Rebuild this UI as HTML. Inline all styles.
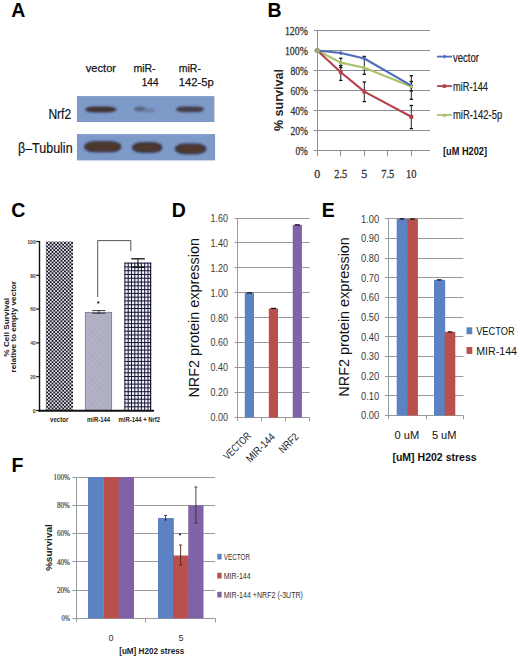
<!DOCTYPE html>
<html><head><meta charset="utf-8"><style>
html,body{margin:0;padding:0;background:#fff;}
body{width:520px;height:660px;overflow:hidden;}
svg{display:block;font-family:"Liberation Sans", sans-serif;}
</style></head><body>
<svg width="520" height="660" viewBox="0 0 520 660">
<defs><filter id="bl" x="-20%" y="-80%" width="140%" height="260%"><feGaussianBlur stdDeviation="0.9"/></filter><filter id="bl2" x="-20%" y="-80%" width="140%" height="260%"><feGaussianBlur stdDeviation="1.3"/></filter><filter id="bl3" x="-5%" y="-5%" width="110%" height="110%"><feGaussianBlur stdDeviation="0.4"/></filter><pattern id="chk" x="0" y="0" width="3.56" height="3.56" patternUnits="userSpaceOnUse"><rect width="3.56" height="3.56" fill="#e4e4ee"/><rect width="1.78" height="1.78" fill="#151520"/><rect x="1.78" y="1.78" width="1.78" height="1.78" fill="#151520"/></pattern><pattern id="chk2" x="0" y="0" width="2.4" height="2.4" patternUnits="userSpaceOnUse"><rect width="2.4" height="2.4" fill="#c4c4d4"/><rect width="1.2" height="1.2" fill="#9c9cb2"/><rect x="1.2" y="1.2" width="1.2" height="1.2" fill="#9c9cb2"/></pattern></defs>
<text x="11.30" y="17.10" font-size="19.5" text-anchor="start" font-weight="bold" fill="#000" >A</text>
<text x="267.60" y="17.10" font-size="19.5" text-anchor="start" font-weight="bold" fill="#000" >B</text>
<text x="11.30" y="216.90" font-size="19.5" text-anchor="start" font-weight="bold" fill="#000" >C</text>
<text x="171.70" y="216.70" font-size="19.5" text-anchor="start" font-weight="bold" fill="#000" >D</text>
<text x="321.70" y="216.70" font-size="19.5" text-anchor="start" font-weight="bold" fill="#000" >E</text>
<text x="11.60" y="471.80" font-size="19.5" text-anchor="start" font-weight="bold" fill="#000" >F</text>
<text x="85.80" y="71.70" font-size="11.5" text-anchor="start" fill="#151515" stroke="#151515" stroke-width="0.25" textLength="30.2" lengthAdjust="spacingAndGlyphs" >vector</text>
<text x="133.40" y="71.70" font-size="11.5" text-anchor="start" fill="#151515" stroke="#151515" stroke-width="0.25" textLength="22.2" lengthAdjust="spacingAndGlyphs" >miR-</text>
<text x="141.80" y="86.00" font-size="11.5" text-anchor="start" fill="#151515" stroke="#151515" stroke-width="0.25" textLength="16.7" lengthAdjust="spacingAndGlyphs" >144</text>
<text x="178.70" y="71.70" font-size="11.5" text-anchor="start" fill="#151515" stroke="#151515" stroke-width="0.25" textLength="22.2" lengthAdjust="spacingAndGlyphs" >miR-</text>
<text x="178.70" y="86.00" font-size="11.5" text-anchor="start" fill="#151515" stroke="#151515" stroke-width="0.25" textLength="35" lengthAdjust="spacingAndGlyphs" >142-5p</text>
<g filter="url(#bl3)">
<rect x="76.90" y="96.10" width="137.50" height="25.90" fill="#7E9AC8" />
<rect x="76.90" y="134.10" width="138.20" height="26.30" fill="#7E9AC8" />
</g>
<g filter="url(#bl)">
<rect x="85.4" y="106.9" width="30.6" height="5.2" rx="9" ry="2.6" fill="#44302a" stroke="#303246" stroke-width="0.8"/>
<rect x="176.4" y="106.9" width="27.2" height="4.9" rx="8" ry="2.45" fill="#483c44" stroke="#33344a" stroke-width="0.8"/>
<rect x="84.6" y="141.8" width="36.2" height="9.8" rx="10" ry="4.9" fill="#4e382e" stroke="#2c2e44" stroke-width="1.3"/>
<rect x="132.6" y="142.8" width="29.2" height="9.4" rx="10" ry="4.7" fill="#4e382e" stroke="#2c2e44" stroke-width="1.3"/>
<rect x="175.5" y="144.2" width="30.3" height="9.4" rx="10" ry="4.7" fill="#4e382e" stroke="#2c2e44" stroke-width="1.3"/>
</g>
<g filter="url(#bl2)"><ellipse cx="140" cy="109" rx="6" ry="2.4" fill="#56627e"/><ellipse cx="149" cy="110.6" rx="6.5" ry="2" fill="#6c7ea2"/></g>
<text x="71.20" y="119.00" font-size="14.5" text-anchor="end" fill="#151515" stroke="#151515" stroke-width="0.2" textLength="22.8" lengthAdjust="spacingAndGlyphs" >Nrf2</text>
<text x="72.60" y="153.00" font-size="14.5" text-anchor="end" fill="#151515" stroke="#151515" stroke-width="0.2" textLength="54.6" lengthAdjust="spacingAndGlyphs" >β–Tubulin</text>
<line x1="314.00" y1="30.50" x2="430.00" y2="30.50" stroke="#8e8e8e" stroke-width="1" />
<line x1="314.00" y1="50.50" x2="430.00" y2="50.50" stroke="#8e8e8e" stroke-width="1" />
<line x1="314.00" y1="70.50" x2="430.00" y2="70.50" stroke="#8e8e8e" stroke-width="1" />
<line x1="314.00" y1="90.50" x2="430.00" y2="90.50" stroke="#8e8e8e" stroke-width="1" />
<line x1="314.00" y1="110.50" x2="430.00" y2="110.50" stroke="#8e8e8e" stroke-width="1" />
<line x1="314.00" y1="130.50" x2="430.00" y2="130.50" stroke="#8e8e8e" stroke-width="1" />
<line x1="314.00" y1="150.50" x2="430.00" y2="150.50" stroke="#8e8e8e" stroke-width="1" />
<line x1="317.50" y1="30.50" x2="317.50" y2="156.20" stroke="#8e8e8e" stroke-width="1" />
<line x1="340.50" y1="150.70" x2="340.50" y2="156.20" stroke="#8e8e8e" stroke-width="1" />
<line x1="364.50" y1="150.70" x2="364.50" y2="156.20" stroke="#8e8e8e" stroke-width="1" />
<line x1="387.50" y1="150.70" x2="387.50" y2="156.20" stroke="#8e8e8e" stroke-width="1" />
<line x1="411.50" y1="150.70" x2="411.50" y2="156.20" stroke="#8e8e8e" stroke-width="1" />
<text x="307.90" y="34.80" font-size="13.5" text-anchor="end" fill="#333" font-family='"Liberation Serif", serif' stroke="#333" stroke-width="0.3" textLength="23" lengthAdjust="spacingAndGlyphs" >120%</text>
<text x="307.90" y="54.83" font-size="13.5" text-anchor="end" fill="#333" font-family='"Liberation Serif", serif' stroke="#333" stroke-width="0.3" textLength="23" lengthAdjust="spacingAndGlyphs" >100%</text>
<text x="307.90" y="74.86" font-size="13.5" text-anchor="end" fill="#333" font-family='"Liberation Serif", serif' stroke="#333" stroke-width="0.3" textLength="17.5" lengthAdjust="spacingAndGlyphs" >80%</text>
<text x="307.90" y="94.89" font-size="13.5" text-anchor="end" fill="#333" font-family='"Liberation Serif", serif' stroke="#333" stroke-width="0.3" textLength="17.5" lengthAdjust="spacingAndGlyphs" >60%</text>
<text x="307.90" y="114.92" font-size="13.5" text-anchor="end" fill="#333" font-family='"Liberation Serif", serif' stroke="#333" stroke-width="0.3" textLength="17.5" lengthAdjust="spacingAndGlyphs" >40%</text>
<text x="307.90" y="134.95" font-size="13.5" text-anchor="end" fill="#333" font-family='"Liberation Serif", serif' stroke="#333" stroke-width="0.3" textLength="17.5" lengthAdjust="spacingAndGlyphs" >20%</text>
<text x="307.90" y="154.98" font-size="13.5" text-anchor="end" fill="#333" font-family='"Liberation Serif", serif' stroke="#333" stroke-width="0.3" textLength="12.5" lengthAdjust="spacingAndGlyphs" >0%</text>
<text x="317.30" y="178.00" font-size="12" text-anchor="middle" fill="#333" font-family='"Liberation Serif", serif' stroke="#333" stroke-width="0.3" >0</text>
<text x="340.80" y="178.00" font-size="12" text-anchor="middle" fill="#333" font-family='"Liberation Serif", serif' stroke="#333" stroke-width="0.3" textLength="13" lengthAdjust="spacingAndGlyphs" >2.5</text>
<text x="364.30" y="178.00" font-size="12" text-anchor="middle" fill="#333" font-family='"Liberation Serif", serif' stroke="#333" stroke-width="0.3" >5</text>
<text x="387.80" y="178.00" font-size="12" text-anchor="middle" fill="#333" font-family='"Liberation Serif", serif' stroke="#333" stroke-width="0.3" textLength="13" lengthAdjust="spacingAndGlyphs" >7.5</text>
<text x="411.30" y="178.00" font-size="12" text-anchor="middle" fill="#333" font-family='"Liberation Serif", serif' stroke="#333" stroke-width="0.3" textLength="10.5" lengthAdjust="spacingAndGlyphs" >10</text>
<text x="0.00" y="0.00" font-size="12" text-anchor="middle" font-weight="bold" fill="#222" textLength="62" lengthAdjust="spacingAndGlyphs" transform="translate(282.8,100) rotate(-90)">% survival</text>
<polyline points="317.3,50.5 340.8,62.6 364.3,67.8 411.3,86.4" fill="none" stroke="#A9C36A" stroke-width="2.1" stroke-linejoin="round"/>
<polyline points="317.3,50.5 340.8,72.3 364.3,91.6 411.3,116.8" fill="none" stroke="#B4424E" stroke-width="2.1" stroke-linejoin="round"/>
<polyline points="317.3,50.5 340.8,53.0 364.3,58.5 411.3,85.6" fill="none" stroke="#4E6CBA" stroke-width="2.1" stroke-linejoin="round"/>
<line x1="340.80" y1="58.20" x2="340.80" y2="67.60" stroke="#222" stroke-width="1" />
<line x1="339.10" y1="58.20" x2="342.50" y2="58.20" stroke="#111" stroke-width="1.3" />
<line x1="339.10" y1="67.60" x2="342.50" y2="67.60" stroke="#111" stroke-width="1.3" />
<line x1="340.80" y1="65.60" x2="340.80" y2="80.40" stroke="#222" stroke-width="1" />
<line x1="339.10" y1="65.60" x2="342.50" y2="65.60" stroke="#111" stroke-width="1.3" />
<line x1="339.10" y1="80.40" x2="342.50" y2="80.40" stroke="#111" stroke-width="1.3" />
<line x1="364.30" y1="56.40" x2="364.30" y2="74.30" stroke="#222" stroke-width="1" />
<line x1="362.60" y1="56.40" x2="366.00" y2="56.40" stroke="#111" stroke-width="1.3" />
<line x1="362.60" y1="74.30" x2="366.00" y2="74.30" stroke="#111" stroke-width="1.3" />
<line x1="364.30" y1="82.00" x2="364.30" y2="101.60" stroke="#222" stroke-width="1" />
<line x1="362.60" y1="82.00" x2="366.00" y2="82.00" stroke="#111" stroke-width="1.3" />
<line x1="362.60" y1="101.60" x2="366.00" y2="101.60" stroke="#111" stroke-width="1.3" />
<line x1="411.30" y1="75.70" x2="411.30" y2="91.00" stroke="#222" stroke-width="1" />
<line x1="409.60" y1="75.70" x2="413.00" y2="75.70" stroke="#111" stroke-width="1.3" />
<line x1="409.60" y1="91.00" x2="413.00" y2="91.00" stroke="#111" stroke-width="1.3" />
<line x1="411.30" y1="81.50" x2="411.30" y2="99.30" stroke="#222" stroke-width="1" />
<line x1="409.60" y1="81.50" x2="413.00" y2="81.50" stroke="#111" stroke-width="1.3" />
<line x1="409.60" y1="99.30" x2="413.00" y2="99.30" stroke="#111" stroke-width="1.3" />
<line x1="411.30" y1="105.50" x2="411.30" y2="128.60" stroke="#222" stroke-width="1" />
<line x1="409.60" y1="105.50" x2="413.00" y2="105.50" stroke="#111" stroke-width="1.3" />
<line x1="409.60" y1="128.60" x2="413.00" y2="128.60" stroke="#111" stroke-width="1.3" />
<circle cx="317.3" cy="50.4" r="2.7" fill="#a4a47c"/>
<path d="M340.8 50.83424999999998 l2.2 2.2 l-2.2 2.2 l-2.2 -2.2z" fill="#4E6CBA"/>
<path d="M364.3 56.34359999999998 l2.2 2.2 l-2.2 2.2 l-2.2 -2.2z" fill="#4E6CBA"/>
<path d="M411.3 83.38949999999998 l2.2 2.2 l-2.2 2.2 l-2.2 -2.2z" fill="#4E6CBA"/>
<rect x="338.80" y="70.27" width="4.00" height="4.00" fill="#B4424E" />
<rect x="362.30" y="89.60" width="4.00" height="4.00" fill="#B4424E" />
<rect x="409.30" y="114.84" width="4.00" height="4.00" fill="#B4424E" />
<path d="M340.8 60.35039999999998 l2.3 4 l-4.6 0z" fill="#A9C36A"/>
<path d="M364.3 65.55923999999999 l2.3 4 l-4.6 0z" fill="#A9C36A"/>
<path d="M411.3 84.19085999999999 l2.3 4 l-4.6 0z" fill="#A9C36A"/>
<line x1="437.00" y1="56.60" x2="452.00" y2="56.60" stroke="#4E6CBA" stroke-width="1.8" />
<text x="453.00" y="61.80" font-size="12.5" text-anchor="start" fill="#222" stroke="#222" stroke-width="0.2" textLength="26" lengthAdjust="spacingAndGlyphs" >vector</text>
<line x1="437.00" y1="86.10" x2="452.00" y2="86.10" stroke="#B4424E" stroke-width="1.8" />
<text x="453.00" y="90.50" font-size="12.5" text-anchor="start" fill="#222" stroke="#222" stroke-width="0.2" textLength="35" lengthAdjust="spacingAndGlyphs" >miR-144</text>
<line x1="437.00" y1="115.00" x2="452.00" y2="115.00" stroke="#A9C36A" stroke-width="1.8" />
<text x="453.00" y="119.20" font-size="12.5" text-anchor="start" fill="#222" stroke="#222" stroke-width="0.2" textLength="49.2" lengthAdjust="spacingAndGlyphs" >miR-142-5p</text>
<rect x="442.60" y="84.30" width="3.60" height="3.60" fill="#B4424E" />
<path d="M444.5 54.6 l2 2 l-2 2 l-2 -2z" fill="#4E6CBA"/>
<path d="M444.5 113 l2.2 3.8 l-4.4 0z" fill="#A9C36A"/>
<text x="443.00" y="155.30" font-size="11" text-anchor="start" font-weight="bold" fill="#111" textLength="44" lengthAdjust="spacingAndGlyphs" >[uM H202]</text>
<rect x="45.80" y="241.50" width="27.20" height="169.00" fill="url(#chk)" />
<rect x="85.30" y="312.31" width="26.40" height="98.19" fill="url(#chk2)" stroke="#6a6a80" stroke-width="0.7"/>
<rect x="124.40" y="262.62" width="26.80" height="147.88" fill="#f4f4fa" />
<g fill="#17173a"><rect x="124.40" y="262.62" width="1.0" height="147.88"/><rect x="127.70" y="262.62" width="1.0" height="147.88"/><rect x="131.00" y="262.62" width="1.0" height="147.88"/><rect x="134.30" y="262.62" width="1.0" height="147.88"/><rect x="137.60" y="262.62" width="1.0" height="147.88"/><rect x="140.90" y="262.62" width="1.0" height="147.88"/><rect x="144.20" y="262.62" width="1.0" height="147.88"/><rect x="147.50" y="262.62" width="1.0" height="147.88"/><rect x="150.00" y="262.62" width="1.2" height="147.88"/><rect x="124.40" y="262.62" width="26.80" height="1.05"/><rect x="124.40" y="266.40" width="26.80" height="1.05"/><rect x="124.40" y="270.18" width="26.80" height="1.05"/><rect x="124.40" y="273.96" width="26.80" height="1.05"/><rect x="124.40" y="277.74" width="26.80" height="1.05"/><rect x="124.40" y="281.52" width="26.80" height="1.05"/><rect x="124.40" y="285.30" width="26.80" height="1.05"/><rect x="124.40" y="289.08" width="26.80" height="1.05"/><rect x="124.40" y="292.86" width="26.80" height="1.05"/><rect x="124.40" y="296.64" width="26.80" height="1.05"/><rect x="124.40" y="300.42" width="26.80" height="1.05"/><rect x="124.40" y="304.20" width="26.80" height="1.05"/><rect x="124.40" y="307.98" width="26.80" height="1.05"/><rect x="124.40" y="311.76" width="26.80" height="1.05"/><rect x="124.40" y="315.54" width="26.80" height="1.05"/><rect x="124.40" y="319.32" width="26.80" height="1.05"/><rect x="124.40" y="323.10" width="26.80" height="1.05"/><rect x="124.40" y="326.88" width="26.80" height="1.05"/><rect x="124.40" y="330.66" width="26.80" height="1.05"/><rect x="124.40" y="334.44" width="26.80" height="1.05"/><rect x="124.40" y="338.22" width="26.80" height="1.05"/><rect x="124.40" y="342.00" width="26.80" height="1.05"/><rect x="124.40" y="345.78" width="26.80" height="1.05"/><rect x="124.40" y="349.56" width="26.80" height="1.05"/><rect x="124.40" y="353.34" width="26.80" height="1.05"/><rect x="124.40" y="357.12" width="26.80" height="1.05"/><rect x="124.40" y="360.90" width="26.80" height="1.05"/><rect x="124.40" y="364.68" width="26.80" height="1.05"/><rect x="124.40" y="368.46" width="26.80" height="1.05"/><rect x="124.40" y="372.24" width="26.80" height="1.05"/><rect x="124.40" y="376.02" width="26.80" height="1.05"/><rect x="124.40" y="379.80" width="26.80" height="1.05"/><rect x="124.40" y="383.58" width="26.80" height="1.05"/><rect x="124.40" y="387.36" width="26.80" height="1.05"/><rect x="124.40" y="391.14" width="26.80" height="1.05"/><rect x="124.40" y="394.92" width="26.80" height="1.05"/><rect x="124.40" y="398.70" width="26.80" height="1.05"/><rect x="124.40" y="402.48" width="26.80" height="1.05"/><rect x="124.40" y="406.26" width="26.80" height="1.05"/></g>
<line x1="39.50" y1="241.00" x2="39.50" y2="411.50" stroke="#111" stroke-width="1.4" />
<line x1="38.50" y1="410.80" x2="154.00" y2="410.80" stroke="#111" stroke-width="2" />
<line x1="36.20" y1="410.50" x2="39.50" y2="410.50" stroke="#111" stroke-width="1.2" />
<text x="35.80" y="412.70" font-size="6" text-anchor="end" font-weight="bold" fill="#444" textLength="3" lengthAdjust="spacingAndGlyphs" >0</text>
<line x1="36.20" y1="376.70" x2="39.50" y2="376.70" stroke="#111" stroke-width="1.2" />
<text x="35.80" y="378.90" font-size="6" text-anchor="end" font-weight="bold" fill="#444" textLength="5.5" lengthAdjust="spacingAndGlyphs" >20</text>
<line x1="36.20" y1="342.90" x2="39.50" y2="342.90" stroke="#111" stroke-width="1.2" />
<text x="35.80" y="345.10" font-size="6" text-anchor="end" font-weight="bold" fill="#444" textLength="5.5" lengthAdjust="spacingAndGlyphs" >40</text>
<line x1="36.20" y1="309.10" x2="39.50" y2="309.10" stroke="#111" stroke-width="1.2" />
<text x="35.80" y="311.30" font-size="6" text-anchor="end" font-weight="bold" fill="#444" textLength="5.5" lengthAdjust="spacingAndGlyphs" >60</text>
<line x1="36.20" y1="275.30" x2="39.50" y2="275.30" stroke="#111" stroke-width="1.2" />
<text x="35.80" y="277.50" font-size="6" text-anchor="end" font-weight="bold" fill="#444" textLength="5.5" lengthAdjust="spacingAndGlyphs" >80</text>
<line x1="36.20" y1="241.50" x2="39.50" y2="241.50" stroke="#111" stroke-width="1.2" />
<text x="35.80" y="243.70" font-size="6" text-anchor="end" font-weight="bold" fill="#444" textLength="8.6" lengthAdjust="spacingAndGlyphs" >100</text>
<line x1="92.20" y1="310.60" x2="105.40" y2="310.60" stroke="#222" stroke-width="0.9" />
<line x1="92.20" y1="313.20" x2="105.40" y2="313.20" stroke="#222" stroke-width="0.9" />
<line x1="98.80" y1="310.60" x2="98.80" y2="313.20" stroke="#222" stroke-width="0.9" />
<line x1="131.20" y1="258.80" x2="144.80" y2="258.80" stroke="#111" stroke-width="1.3" />
<line x1="138.00" y1="258.80" x2="138.00" y2="267.30" stroke="#111" stroke-width="1" />
<line x1="131.20" y1="267.30" x2="144.80" y2="267.30" stroke="#111" stroke-width="1.3" />
<polyline points="97.7,297 97.7,240.6 130.8,240.6 130.8,251" fill="none" stroke="#555" stroke-width="1"/>
<text x="98.30" y="305.60" font-size="7.5" text-anchor="middle" font-weight="bold" fill="#111" >*</text>
<text x="0.00" y="0.00" font-size="7" text-anchor="middle" font-weight="bold" fill="#222" textLength="58.7" lengthAdjust="spacingAndGlyphs" transform="translate(9.4,327.3) rotate(-90)">% Cell Survival</text>
<text x="0.00" y="0.00" font-size="7" text-anchor="middle" font-weight="bold" fill="#222" textLength="91.4" lengthAdjust="spacingAndGlyphs" transform="translate(16,326.7) rotate(-90)">relative to empty vector</text>
<text x="59.20" y="421.50" font-size="6.5" text-anchor="middle" font-weight="bold" fill="#222" textLength="18.3" lengthAdjust="spacingAndGlyphs" >vector</text>
<text x="98.50" y="421.50" font-size="6.5" text-anchor="middle" font-weight="bold" fill="#222" textLength="23" lengthAdjust="spacingAndGlyphs" >miR-144</text>
<text x="139.30" y="421.50" font-size="6.5" text-anchor="middle" font-weight="bold" fill="#222" textLength="41.5" lengthAdjust="spacingAndGlyphs" >miR-144 + Nrf2</text>
<line x1="234.50" y1="417.50" x2="309.60" y2="417.50" stroke="#9a9a9a" stroke-width="1" />
<text x="227.90" y="421.30" font-size="10" text-anchor="end" fill="#3a3a3a" textLength="17.5" lengthAdjust="spacingAndGlyphs" >0.00</text>
<line x1="234.50" y1="392.50" x2="309.60" y2="392.50" stroke="#9a9a9a" stroke-width="1" />
<text x="227.90" y="396.35" font-size="10" text-anchor="end" fill="#3a3a3a" textLength="17.5" lengthAdjust="spacingAndGlyphs" >0.20</text>
<line x1="234.50" y1="367.50" x2="309.60" y2="367.50" stroke="#9a9a9a" stroke-width="1" />
<text x="227.90" y="371.40" font-size="10" text-anchor="end" fill="#3a3a3a" textLength="17.5" lengthAdjust="spacingAndGlyphs" >0.40</text>
<line x1="234.50" y1="342.50" x2="309.60" y2="342.50" stroke="#9a9a9a" stroke-width="1" />
<text x="227.90" y="346.45" font-size="10" text-anchor="end" fill="#3a3a3a" textLength="17.5" lengthAdjust="spacingAndGlyphs" >0.60</text>
<line x1="234.50" y1="317.50" x2="309.60" y2="317.50" stroke="#9a9a9a" stroke-width="1" />
<text x="227.90" y="321.50" font-size="10" text-anchor="end" fill="#3a3a3a" textLength="17.5" lengthAdjust="spacingAndGlyphs" >0.80</text>
<line x1="234.50" y1="292.50" x2="309.60" y2="292.50" stroke="#9a9a9a" stroke-width="1" />
<text x="227.90" y="296.55" font-size="10" text-anchor="end" fill="#3a3a3a" textLength="17.5" lengthAdjust="spacingAndGlyphs" >1.00</text>
<line x1="234.50" y1="267.50" x2="309.60" y2="267.50" stroke="#9a9a9a" stroke-width="1" />
<text x="227.90" y="271.60" font-size="10" text-anchor="end" fill="#3a3a3a" textLength="17.5" lengthAdjust="spacingAndGlyphs" >1.20</text>
<line x1="234.50" y1="242.50" x2="309.60" y2="242.50" stroke="#9a9a9a" stroke-width="1" />
<text x="227.90" y="246.65" font-size="10" text-anchor="end" fill="#3a3a3a" textLength="17.5" lengthAdjust="spacingAndGlyphs" >1.40</text>
<line x1="234.50" y1="218.50" x2="309.60" y2="218.50" stroke="#9a9a9a" stroke-width="1" />
<text x="227.90" y="221.70" font-size="10" text-anchor="end" fill="#3a3a3a" textLength="17.5" lengthAdjust="spacingAndGlyphs" >1.60</text>
<line x1="237.50" y1="218.30" x2="237.50" y2="421.00" stroke="#9a9a9a" stroke-width="1" />
<line x1="261.50" y1="417.60" x2="261.50" y2="421.30" stroke="#9a9a9a" stroke-width="1" />
<line x1="285.50" y1="417.60" x2="285.50" y2="421.30" stroke="#9a9a9a" stroke-width="1" />
<line x1="309.50" y1="417.60" x2="309.50" y2="421.30" stroke="#9a9a9a" stroke-width="1" />
<rect x="244.80" y="292.85" width="9.20" height="124.75" fill="#5D82C3" />
<line x1="246.90" y1="292.85" x2="251.90" y2="292.85" stroke="#111" stroke-width="1.3" />
<rect x="268.80" y="308.44" width="9.20" height="109.16" fill="#BA504C" />
<line x1="270.90" y1="308.44" x2="275.90" y2="308.44" stroke="#111" stroke-width="1.3" />
<rect x="292.70" y="224.86" width="9.20" height="192.74" fill="#7F63A6" />
<line x1="294.80" y1="224.86" x2="299.80" y2="224.86" stroke="#111" stroke-width="1.3" />
<text x="0.00" y="0.00" font-size="14.8" text-anchor="middle" fill="#111" textLength="159.6" lengthAdjust="spacingAndGlyphs" transform="translate(198.9,317.8) rotate(-90)">NRF2 protein expression</text>
<text x="0.00" y="0.00" font-size="10.6" text-anchor="end" fill="#222" textLength="34" lengthAdjust="spacingAndGlyphs" transform="translate(251.8,436.5) rotate(-45)">VECTOR</text>
<text x="0.00" y="0.00" font-size="10.6" text-anchor="end" fill="#222" textLength="36" lengthAdjust="spacingAndGlyphs" transform="translate(275.7,437.5) rotate(-45)">MIR-144</text>
<text x="0.00" y="0.00" font-size="10.6" text-anchor="end" fill="#222" textLength="23" lengthAdjust="spacingAndGlyphs" transform="translate(299.2,437.5) rotate(-45)">NRF2</text>
<line x1="385.00" y1="415.50" x2="463.40" y2="415.50" stroke="#9a9a9a" stroke-width="1" />
<text x="379.20" y="419.20" font-size="10" text-anchor="end" fill="#3a3a3a" textLength="18.2" lengthAdjust="spacingAndGlyphs" >0.00</text>
<line x1="385.00" y1="395.50" x2="463.40" y2="395.50" stroke="#9a9a9a" stroke-width="1" />
<text x="379.20" y="399.54" font-size="10" text-anchor="end" fill="#3a3a3a" textLength="18.2" lengthAdjust="spacingAndGlyphs" >0.10</text>
<line x1="385.00" y1="376.50" x2="463.40" y2="376.50" stroke="#9a9a9a" stroke-width="1" />
<text x="379.20" y="379.88" font-size="10" text-anchor="end" fill="#3a3a3a" textLength="18.2" lengthAdjust="spacingAndGlyphs" >0.20</text>
<line x1="385.00" y1="356.50" x2="463.40" y2="356.50" stroke="#9a9a9a" stroke-width="1" />
<text x="379.20" y="360.22" font-size="10" text-anchor="end" fill="#3a3a3a" textLength="18.2" lengthAdjust="spacingAndGlyphs" >0.30</text>
<line x1="385.00" y1="336.50" x2="463.40" y2="336.50" stroke="#9a9a9a" stroke-width="1" />
<text x="379.20" y="340.56" font-size="10" text-anchor="end" fill="#3a3a3a" textLength="18.2" lengthAdjust="spacingAndGlyphs" >0.40</text>
<line x1="385.00" y1="317.50" x2="463.40" y2="317.50" stroke="#9a9a9a" stroke-width="1" />
<text x="379.20" y="320.90" font-size="10" text-anchor="end" fill="#3a3a3a" textLength="18.2" lengthAdjust="spacingAndGlyphs" >0.50</text>
<line x1="385.00" y1="297.50" x2="463.40" y2="297.50" stroke="#9a9a9a" stroke-width="1" />
<text x="379.20" y="301.24" font-size="10" text-anchor="end" fill="#3a3a3a" textLength="18.2" lengthAdjust="spacingAndGlyphs" >0.60</text>
<line x1="385.00" y1="277.50" x2="463.40" y2="277.50" stroke="#9a9a9a" stroke-width="1" />
<text x="379.20" y="281.58" font-size="10" text-anchor="end" fill="#3a3a3a" textLength="18.2" lengthAdjust="spacingAndGlyphs" >0.70</text>
<line x1="385.00" y1="258.50" x2="463.40" y2="258.50" stroke="#9a9a9a" stroke-width="1" />
<text x="379.20" y="261.92" font-size="10" text-anchor="end" fill="#3a3a3a" textLength="18.2" lengthAdjust="spacingAndGlyphs" >0.80</text>
<line x1="385.00" y1="238.50" x2="463.40" y2="238.50" stroke="#9a9a9a" stroke-width="1" />
<text x="379.20" y="242.26" font-size="10" text-anchor="end" fill="#3a3a3a" textLength="18.2" lengthAdjust="spacingAndGlyphs" >0.90</text>
<line x1="385.00" y1="218.50" x2="463.40" y2="218.50" stroke="#9a9a9a" stroke-width="1" />
<text x="379.20" y="222.60" font-size="10" text-anchor="end" fill="#3a3a3a" textLength="18.2" lengthAdjust="spacingAndGlyphs" >1.00</text>
<line x1="388.50" y1="218.90" x2="388.50" y2="419.00" stroke="#9a9a9a" stroke-width="1" />
<line x1="426.50" y1="415.50" x2="426.50" y2="419.30" stroke="#9a9a9a" stroke-width="1" />
<line x1="463.50" y1="415.50" x2="463.50" y2="419.30" stroke="#9a9a9a" stroke-width="1" />
<rect x="396.70" y="218.90" width="11.20" height="196.60" fill="#5D82C3" />
<line x1="399.70" y1="218.90" x2="404.30" y2="218.90" stroke="#111" stroke-width="1.3" />
<rect x="407.30" y="218.90" width="10.60" height="196.60" fill="#BA504C" />
<line x1="410.30" y1="218.90" x2="414.90" y2="218.90" stroke="#111" stroke-width="1.3" />
<rect x="434.00" y="279.85" width="11.20" height="135.65" fill="#5D82C3" />
<line x1="437.00" y1="279.85" x2="441.60" y2="279.85" stroke="#111" stroke-width="1.3" />
<rect x="444.70" y="331.94" width="10.60" height="83.56" fill="#BA504C" />
<line x1="447.70" y1="331.94" x2="452.30" y2="331.94" stroke="#111" stroke-width="1.3" />
<text x="0.00" y="0.00" font-size="14.8" text-anchor="middle" fill="#111" textLength="159.6" lengthAdjust="spacingAndGlyphs" transform="translate(349.4,316.9) rotate(-90)">NRF2 protein expression</text>
<text x="394.50" y="438.80" font-size="10.5" text-anchor="start" fill="#111" textLength="24.7" lengthAdjust="spacingAndGlyphs" >0 uM</text>
<text x="431.90" y="438.80" font-size="10.5" text-anchor="start" fill="#111" textLength="24.6" lengthAdjust="spacingAndGlyphs" >5 uM</text>
<text x="392.40" y="460.60" font-size="10.5" text-anchor="start" font-weight="bold" fill="#111" textLength="84.3" lengthAdjust="spacingAndGlyphs" >[uM] H202 stress</text>
<rect x="466.50" y="327.30" width="5.80" height="6.90" fill="#5D82C3" />
<rect x="466.50" y="347.00" width="5.80" height="6.90" fill="#BA504C" />
<text x="476.20" y="334.80" font-size="11" text-anchor="start" fill="#111" textLength="38.4" lengthAdjust="spacingAndGlyphs" >VECTOR</text>
<text x="476.20" y="354.50" font-size="11" text-anchor="start" fill="#111" textLength="40.8" lengthAdjust="spacingAndGlyphs" >MIR-144</text>
<line x1="72.40" y1="618.50" x2="215.25" y2="618.50" stroke="#9a9a9a" stroke-width="1" />
<text x="70.00" y="621.30" font-size="8.2" text-anchor="end" fill="#444" font-family='"Liberation Serif", serif' stroke="#444" stroke-width="0.2" textLength="8.5" lengthAdjust="spacingAndGlyphs" >0%</text>
<line x1="72.40" y1="590.50" x2="215.25" y2="590.50" stroke="#9a9a9a" stroke-width="1" />
<text x="70.00" y="593.03" font-size="8.2" text-anchor="end" fill="#444" font-family='"Liberation Serif", serif' stroke="#444" stroke-width="0.2" textLength="13.1" lengthAdjust="spacingAndGlyphs" >20%</text>
<line x1="72.40" y1="561.50" x2="215.25" y2="561.50" stroke="#9a9a9a" stroke-width="1" />
<text x="70.00" y="564.76" font-size="8.2" text-anchor="end" fill="#444" font-family='"Liberation Serif", serif' stroke="#444" stroke-width="0.2" textLength="13.1" lengthAdjust="spacingAndGlyphs" >40%</text>
<line x1="72.40" y1="533.50" x2="215.25" y2="533.50" stroke="#9a9a9a" stroke-width="1" />
<text x="70.00" y="536.49" font-size="8.2" text-anchor="end" fill="#444" font-family='"Liberation Serif", serif' stroke="#444" stroke-width="0.2" textLength="13.1" lengthAdjust="spacingAndGlyphs" >60%</text>
<line x1="72.40" y1="505.50" x2="215.25" y2="505.50" stroke="#9a9a9a" stroke-width="1" />
<text x="70.00" y="508.22" font-size="8.2" text-anchor="end" fill="#444" font-family='"Liberation Serif", serif' stroke="#444" stroke-width="0.2" textLength="13.1" lengthAdjust="spacingAndGlyphs" >80%</text>
<line x1="72.40" y1="477.50" x2="215.25" y2="477.50" stroke="#9a9a9a" stroke-width="1" />
<text x="70.00" y="479.95" font-size="8.2" text-anchor="end" fill="#444" font-family='"Liberation Serif", serif' stroke="#444" stroke-width="0.2" textLength="16.5" lengthAdjust="spacingAndGlyphs" >100%</text>
<line x1="76.50" y1="477.00" x2="76.50" y2="622.00" stroke="#9a9a9a" stroke-width="1" />
<line x1="145.50" y1="618.40" x2="145.50" y2="622.50" stroke="#9a9a9a" stroke-width="1" />
<line x1="215.50" y1="618.40" x2="215.50" y2="622.50" stroke="#9a9a9a" stroke-width="1" />
<rect x="88.00" y="477.05" width="15.85" height="141.35" fill="#5D82C3" />
<rect x="103.75" y="477.05" width="15.85" height="141.35" fill="#BA504C" />
<rect x="118.75" y="477.05" width="15.25" height="141.35" fill="#7F63A6" />
<rect x="158.00" y="518.04" width="15.85" height="100.36" fill="#5D82C3" />
<rect x="173.00" y="555.50" width="15.85" height="62.90" fill="#BA504C" />
<rect x="188.25" y="505.32" width="15.25" height="113.08" fill="#7F63A6" />
<line x1="165.50" y1="515.50" x2="165.50" y2="520.00" stroke="#333" stroke-width="0.9" />
<line x1="164.00" y1="515.50" x2="167.00" y2="515.50" stroke="#333" stroke-width="0.9" />
<line x1="164.00" y1="520.00" x2="167.00" y2="520.00" stroke="#333" stroke-width="0.9" />
<line x1="180.60" y1="545.00" x2="180.60" y2="565.00" stroke="#552222" stroke-width="0.9" />
<line x1="179.10" y1="545.00" x2="182.10" y2="545.00" stroke="#552222" stroke-width="0.9" />
<line x1="179.10" y1="565.00" x2="182.10" y2="565.00" stroke="#552222" stroke-width="0.9" />
<line x1="195.90" y1="487.00" x2="195.90" y2="523.00" stroke="#333" stroke-width="0.9" />
<line x1="194.40" y1="487.00" x2="197.40" y2="487.00" stroke="#333" stroke-width="0.9" />
<line x1="194.40" y1="523.00" x2="197.40" y2="523.00" stroke="#333" stroke-width="0.9" />
<circle cx="180" cy="534.3" r="1.1" fill="#222"/>
<text x="0.00" y="0.00" font-size="9.6" text-anchor="middle" font-weight="bold" fill="#222" textLength="47" lengthAdjust="spacingAndGlyphs" transform="translate(52.2,547.6) rotate(-90)">%survival</text>
<text x="111.10" y="641.20" font-size="9" text-anchor="middle" fill="#333" >0</text>
<text x="181.00" y="641.20" font-size="9" text-anchor="middle" fill="#333" >5</text>
<text x="119.20" y="653.50" font-size="9.2" text-anchor="start" font-weight="bold" fill="#222" textLength="65" lengthAdjust="spacingAndGlyphs" >[uM] H202 stress</text>
<rect x="217.30" y="553.80" width="4.30" height="5.70" fill="#5D82C3" />
<text x="223.70" y="560.30" font-size="8.8" text-anchor="start" fill="#333" textLength="26.4" lengthAdjust="spacingAndGlyphs" >VECTOR</text>
<rect x="217.30" y="572.80" width="4.30" height="5.70" fill="#BA504C" />
<text x="223.70" y="579.30" font-size="8.8" text-anchor="start" fill="#333" textLength="27" lengthAdjust="spacingAndGlyphs" >MIR-144</text>
<rect x="217.30" y="591.80" width="4.30" height="5.70" fill="#7F63A6" />
<text x="223.70" y="598.30" font-size="8.8" text-anchor="start" fill="#333" textLength="79.3" lengthAdjust="spacingAndGlyphs" >MIR-144 +NRF2 (-3UTR)</text>
</svg>
</body></html>
